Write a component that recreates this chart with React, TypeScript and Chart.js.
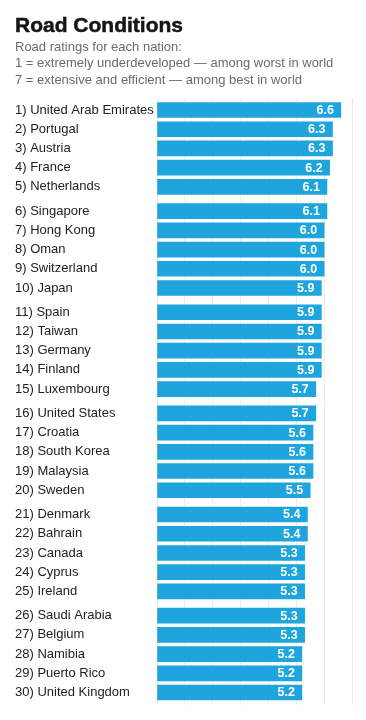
import React, { useEffect, useRef } from "react";
import { Chart, registerables } from "chart.js";

Chart.register(...registerables);

const countries = [
  "United Arab Emirates", "Portugal", "Austria", "France", "Netherlands",
  "Singapore", "Hong Kong", "Oman", "Switzerland", "Japan",
  "Spain", "Taiwan", "Germany", "Finland", "Luxembourg",
  "United States", "Croatia", "South Korea", "Malaysia", "Sweden",
  "Denmark", "Bahrain", "Canada", "Cyprus", "Ireland",
  "Saudi Arabia", "Belgium", "Namibia", "Puerto Rico", "United Kingdom",
];

const ratings = [
  6.6, 6.3, 6.3, 6.2, 6.1,
  6.1, 6.0, 6.0, 6.0, 5.9,
  5.9, 5.9, 5.9, 5.9, 5.7,
  5.7, 5.6, 5.6, 5.6, 5.5,
  5.4, 5.4, 5.3, 5.3, 5.3,
  5.3, 5.3, 5.2, 5.2, 5.2,
];

const tickLabels = countries.map((c, i) => `${i + 1}) ${c}`);

const GROUP_SIZE = 5;
const GROUP_GAP = 0.265;
const rowPos = countries.map((_, i) => i + Math.floor(i / GROUP_SIZE) * GROUP_GAP);

const FONT = "'Liberation Sans', Arial, Helvetica, sans-serif";

const valueLabels = {
  id: "valueLabels",
  afterDatasetsDraw(chart: any) {
    const ctx = chart.ctx;
    const meta = chart.getDatasetMeta(0);
    ctx.save();
    ctx.fillStyle = "#ffffff";
    ctx.font = `bold 12.5px ${FONT}`;
    ctx.textAlign = "right";
    ctx.textBaseline = "middle";
    meta.data.forEach((bar: any, i: number) => {
      ctx.fillText(ratings[i].toFixed(1), bar.x - 7, bar.y + 0.5);
    });
    ctx.restore();
  },
};

export default function App() {
  const ref = useRef<HTMLCanvasElement | null>(null);

  useEffect(() => {
    document.body.style.margin = "0";
    const canvas = ref.current;
    if (!canvas) return;
    const chart = new Chart(canvas, {
      type: "bar",
      data: {
        datasets: [
          {
            data: ratings.map((v, i) => ({ x: v, y: rowPos[i] })),
            backgroundColor: "#1fa5de",
            borderWidth: 0,
            barThickness: 15,
          },
        ],
      },
      plugins: [valueLabels],
      options: {
        indexAxis: "y",
        responsive: false,
        animation: false,
        layout: { padding: { top: 98, bottom: 15, left: 15, right: 14 } },
        plugins: { legend: { display: false }, tooltip: { enabled: false }, title: { display: false } },
        scales: {
          x: {
            type: "linear",
            min: 0,
            max: 7,
            ticks: { display: false, stepSize: 1 },
            grid: { color: "#ececec", lineWidth: 1, drawTicks: false },
            border: { display: false },
          },
          y: {
            type: "linear",
            reverse: true,
            offset: false,
            min: -0.625,
            max: rowPos[rowPos.length - 1] + 0.65,
            afterBuildTicks: (scale: any) => {
              scale.ticks = rowPos.map((v) => ({ value: v }));
            },
            afterFit: (scale: any) => {
              scale.width = 142;
            },
            ticks: {
              autoSkip: false,
              crossAlign: "far",
              color: "#222222",
              font: { family: FONT, size: 13 },
              callback: (_v: any, i: number) => tickLabels[i],
            },
            grid: { display: false, drawTicks: false },
            border: { display: false },
          },
        },
      },
    } as any);
    return () => chart.destroy();
  }, []);

  return (
    <div style={{ position: "relative", width: 366, height: 720, background: "#ffffff", overflow: "hidden" }}>
      <canvas ref={ref} width={366} height={720} style={{ position: "absolute", left: 0, top: 0 }} />
      <div
        style={{
          position: "absolute",
          left: 15,
          top: 14,
          fontFamily: FONT,
          fontWeight: 700,
          fontSize: 21,
          lineHeight: "21px",
          color: "#151515",
          whiteSpace: "nowrap",
          WebkitTextStroke: "0.5px #151515",
        }}
      >
        Road Conditions
      </div>
      <div
        style={{
          position: "absolute",
          left: 15,
          top: 39,
          fontFamily: FONT,
          fontSize: 13,
          lineHeight: "16.3px",
          color: "#6b6b6b",
          whiteSpace: "nowrap",
        }}
      >
        <div>Road ratings for each nation:</div>
        <div>1 = extremely underdeveloped — among worst in world</div>
        <div>7 = extensive and efficient — among best in world</div>
      </div>
    </div>
  );
}
